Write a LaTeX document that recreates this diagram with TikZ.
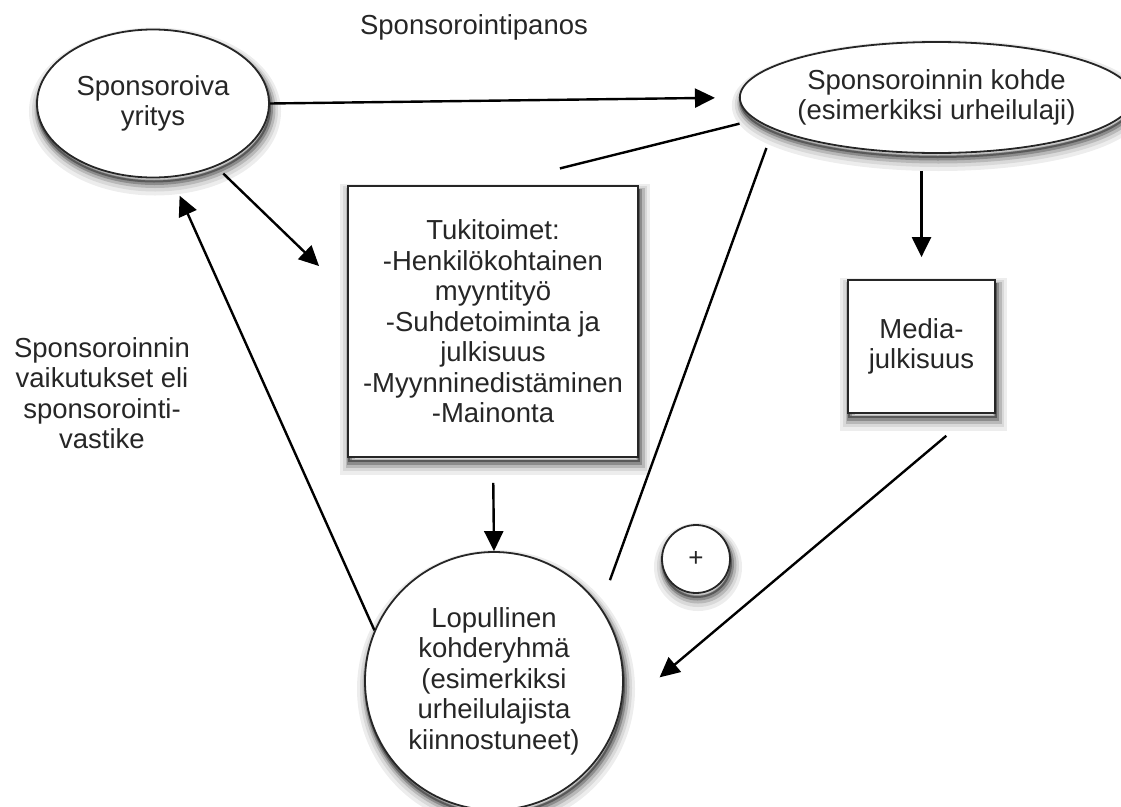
\documentclass[tikz,border=0pt]{standalone}
\usepackage{fontspec}
\setmainfont{Liberation Sans}
\usetikzlibrary{shapes.geometric, arrows.meta}

\begin{document}
\begin{tikzpicture}[
    x=1pt, y=-1pt,
    every node/.style={font=\fontsize{27.5}{30.5}\selectfont, text=black!85, align=center, inner sep=0pt},
    shadowed/.style={
        preaction={draw=black!7, line width=20pt, transform canvas={shift={(2pt,-8pt)}}},
        preaction={draw=black!15, line width=14pt, transform canvas={shift={(2pt,-7pt)}}},
        preaction={draw=black!28, line width=9pt, transform canvas={shift={(2pt,-6pt)}}},
        preaction={draw=black!45, line width=5pt, transform canvas={shift={(1.5pt,-5pt)}}},
        preaction={draw=black!65, line width=2pt, transform canvas={shift={(1pt,-4pt)}}}},
    bubble/.style={ellipse, draw=black!85, line width=1.8pt, fill=white, shadowed},
    ring/.style={circle, draw=black!85, line width=1.8pt, fill=white, shadowed},
    box/.style={rectangle, draw=black!85, line width=1.8pt, fill=white, shadowed},
    arrow/.style={-{Triangle[length=20pt, width=19pt]}, line width=2.4pt, draw=black},
    link/.style={line width=2.4pt, draw=black}
]
\useasboundingbox (0,0) rectangle (1121,806);

\node[bubble, minimum width=232pt, minimum height=148pt] (yritys) at (153,103.5) {Sponsoroiva\\yritys};
\node[bubble, minimum width=363pt, minimum height=111pt] (kohde) at (936.5,97.5) {Sponsoroinnin kohde\\(esimerkiksi urheilulaji)};
\node[box, minimum width=290pt, minimum height=271pt] (tuki) at (493,321.5) {Tukitoimet:\\-Henkilökohtainen\\myyntityö\\-Suhdetoiminta ja\\julkisuus\\-Myynninedistäminen\\-Mainonta};
\node[box, minimum width=147pt, minimum height=133pt] (media) at (921.5,346.5) {Media-\\julkisuus};
\node[ring, minimum size=258pt] (ryhma) at (494,681) {Lopullinen\\kohderyhmä\\(esimerkiksi\\urheilulajista\\kiinnostuneet)};
\node[ring, minimum size=68pt, font=\fontsize{26}{26}\selectfont] (plus) at (696,559) {+};

\node (panos) at (474,27) {Sponsorointipanos};
\node (vastike) at (102,393) {Sponsoroinnin\\vaikutukset eli\\sponsorointi-\\vastike};

\draw[arrow, shorten >=24pt] (yritys.east) -- (kohde.west);
\draw[arrow, shorten <=10pt, shorten >=39pt] (yritys.-45) -- (tuki.169);
\draw[arrow, shorten >=20pt] (ryhma.157) -- (yritys.-76);
\draw[arrow, shorten <=25pt] (tuki.south) -- (ryhma.north);
\draw[arrow, shorten <=17pt, shorten >=22pt] (kohde.south -| media.north) -- (media.north);
\draw[arrow, shorten <=34pt, shorten >=51pt] (media.-53) -- (ryhma.-13);
\draw[link, shorten <=69pt, shorten >=16pt] (tuki.north) -- (kohde.-173);
\draw[link, shorten <=28pt, shorten >=20pt] (ryhma.35) -- (kohde.-169);
\end{tikzpicture}
\end{document}
